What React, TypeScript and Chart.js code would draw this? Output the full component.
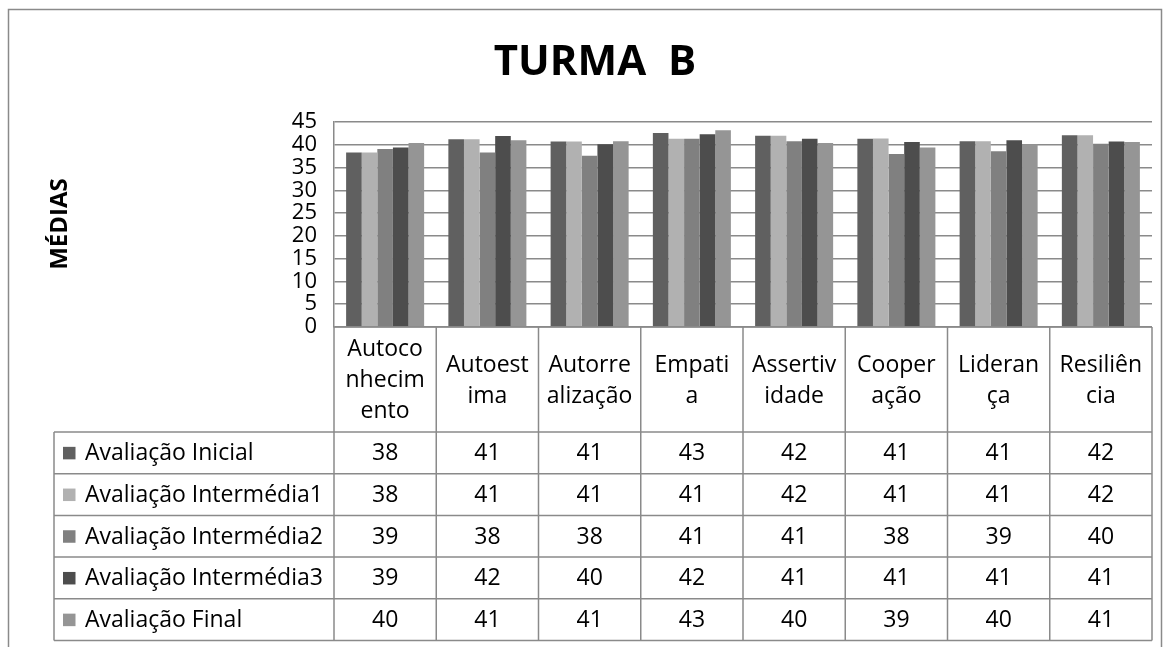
import React, { useEffect, useRef } from "react";
import { Chart, registerables } from "chart.js";

Chart.register(...registerables);

const chartTitle = "TURMA  B";
const yAxisTitle = "MÉDIAS";

const categories = [
  "Autoconhecimento",
  "Autoestima",
  "Autorrealização",
  "Empatia",
  "Assertividade",
  "Cooperação",
  "Liderança",
  "Resiliência",
];

// wrapped header text as shown in the data table
const categoryLines = [
  ["Autoco", "nhecim", "ento"],
  ["Autoest", "ima"],
  ["Autorre", "alização"],
  ["Empati", "a"],
  ["Assertiv", "idade"],
  ["Cooper", "ação"],
  ["Lideran", "ça"],
  ["Resiliên", "cia"],
];

const seriesNames = [
  "Avaliação Inicial",
  "Avaliação Intermédia1",
  "Avaliação Intermédia2",
  "Avaliação Intermédia3",
  "Avaliação Final",
];

const avaliacaoInicial = [38.3, 41.2, 40.7, 42.6, 42.0, 41.3, 40.8, 42.1];
const avaliacaoIntermedia1 = [38.3, 41.2, 40.7, 41.3, 42.0, 41.4, 40.8, 42.1];
const avaliacaoIntermedia2 = [39.1, 38.3, 37.6, 41.3, 40.8, 38.0, 38.6, 40.2];
const avaliacaoIntermedia3 = [39.4, 41.9, 40.1, 42.3, 41.3, 40.6, 41.0, 40.7];
const avaliacaoFinal = [40.4, 41.0, 40.8, 43.2, 40.4, 39.4, 40.1, 40.6];

const seriesValues = [
  avaliacaoInicial,
  avaliacaoIntermedia1,
  avaliacaoIntermedia2,
  avaliacaoIntermedia3,
  avaliacaoFinal,
];

const seriesColors = ["#606060", "#b1b1b1", "#808080", "#4d4d4d", "#959595"];

const yMin = 0;
const yMax = 45;
const yStep = 5;

const FONT = "'Open Sans', 'DejaVu Sans', sans-serif";
const LINE = "#8a8a8a";

const tablePlugin = {
  id: "dataTableAndFrame",
  afterDraw(chart: any) {
    const ctx = chart.ctx as CanvasRenderingContext2D;
    const area = chart.chartArea;
    const xs = chart.scales.x;
    const n = categories.length;
    const colW = (area.right - area.left) / n;
    const tableTop = area.bottom;
    const headerBottom = tableTop + 105;
    const rowH = 41.7;
    const legendLeft = 54;
    const tableBottom = headerBottom + rowH * seriesNames.length;

    ctx.save();
    // outer chart frame
    ctx.strokeStyle = LINE;
    ctx.lineWidth = 1.5;
    ctx.beginPath();
    ctx.moveTo(8.5, 700);
    ctx.lineTo(8.5, 9.5);
    ctx.lineTo(1161.5, 9.5);
    ctx.lineTo(1161.5, 700);
    ctx.stroke();

    // title
    ctx.fillStyle = "#000";
    ctx.font = `bold 42px ${FONT}`;
    ctx.textAlign = "center";
    ctx.textBaseline = "alphabetic";
    ctx.fillText(chartTitle, 595, 75);

    // y axis title
    ctx.save();
    ctx.translate(60, 224);
    ctx.rotate(-Math.PI / 2);
    ctx.font = `bold 24px ${FONT}`;
    ctx.textAlign = "center";
    ctx.textBaseline = "middle";
    ctx.fillText(yAxisTitle, 0, 0);
    ctx.restore();

    // table lines
    ctx.strokeStyle = LINE;
    ctx.lineWidth = 1.5;
    ctx.beginPath();
    ctx.moveTo(area.left, tableTop);
    ctx.lineTo(area.right, tableTop);
    for (let r = 0; r <= seriesNames.length; r++) {
      const y = headerBottom + r * rowH;
      ctx.moveTo(legendLeft, y);
      ctx.lineTo(area.right, y);
    }
    for (let i = 0; i <= n; i++) {
      const x = area.left + i * colW;
      ctx.moveTo(x, tableTop);
      ctx.lineTo(x, tableBottom);
    }
    ctx.moveTo(legendLeft, headerBottom);
    ctx.lineTo(legendLeft, tableBottom);
    ctx.stroke();

    // header text
    ctx.fillStyle = "#000";
    ctx.font = `23px ${FONT}`;
    ctx.textAlign = "center";
    ctx.textBaseline = "middle";
    const headerMid = (tableTop + headerBottom) / 2;
    const lh = 31;
    for (let i = 0; i < n; i++) {
      const cx = xs.getPixelForValue(i);
      const lines = categoryLines[i];
      const start = headerMid - ((lines.length - 1) * lh) / 2;
      lines.forEach((t, k) => ctx.fillText(t, cx, start + k * lh + 1));
    }

    // rows
    for (let s = 0; s < seriesNames.length; s++) {
      const cy = headerBottom + s * rowH + rowH / 2;
      ctx.fillStyle = seriesColors[s];
      ctx.fillRect(63, cy - 6, 12.5, 12.5);
      ctx.fillStyle = "#000";
      ctx.textAlign = "left";
      ctx.fillText(seriesNames[s], 85, cy + 1);
      ctx.textAlign = "center";
      for (let i = 0; i < n; i++) {
        const cx = xs.getPixelForValue(i);
        ctx.fillText(String(Math.round(seriesValues[s][i])), cx, cy + 1);
      }
    }
    ctx.restore();
  },
};

export default function App() {
  const ref = useRef<HTMLCanvasElement | null>(null);

  useEffect(() => {
    if (!ref.current) return;
    const chart = new Chart(ref.current, {
      type: "bar",
      data: {
        labels: categories,
        datasets: seriesNames.map((name, i) => ({
          label: name,
          data: seriesValues[i],
          backgroundColor: seriesColors[i],
          borderWidth: 0,
          categoryPercentage: 0.763,
          barPercentage: 1,
        })),
      },
      options: {
        animation: false,
        responsive: false,
        maintainAspectRatio: false,
        layout: { padding: { left: 0, top: 122, right: 18, bottom: 320 } },
        plugins: {
          legend: { display: false },
          title: { display: false },
          tooltip: { enabled: false },
        },
        scales: {
          x: { display: false, grid: { display: false } },
          y: {
            min: yMin,
            max: yMax,
            ticks: {
              stepSize: yStep,
              autoSkip: false,
              padding: 17,
              color: "#000",
              font: { family: FONT, size: 22 },
            },
            grid: { color: LINE, lineWidth: 1.5, drawTicks: false },
            border: { color: LINE, width: 1.5 },
            afterFit: (s: any) => {
              s.width = 334;
            },
          },
        },
      },
      plugins: [tablePlugin],
    });
    return () => chart.destroy();
  }, []);

  return (
    <div style={{ position: "fixed", left: 0, top: 0, width: 1170, height: 647, background: "#fff" }}>
      <canvas ref={ref} width={1170} height={647} style={{ display: "block" }} />
    </div>
  );
}
